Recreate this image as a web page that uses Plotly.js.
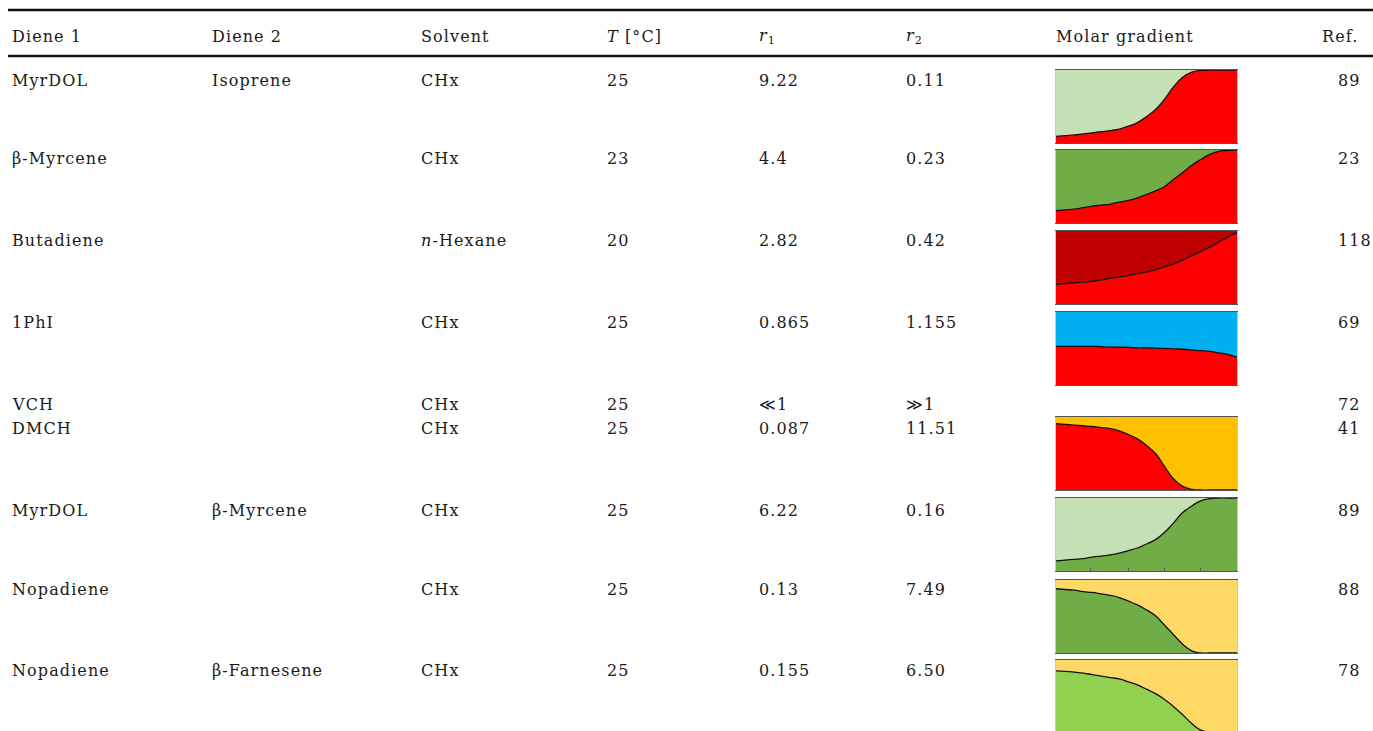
<!DOCTYPE html>
<html>
<head>
<meta charset="utf-8">
<script src="https://cdn.plot.ly/plotly-3.0.1.min.js"></script>
<style>
html,body{margin:0;padding:0;background:#fff;}
#chart{width:1373px;height:731px;}
.annotation-text{letter-spacing:1.1px;}
</style>
</head>
<body>
<div id="chart"></div>
<script>
// ---------- table data ----------
const headers = ['Diene 1', 'Diene 2', 'Solvent', '<i>T</i> [°C]', '<i>r</i><sub>1</sub>', '<i>r</i><sub>2</sub>', 'Molar gradient', 'Ref.'];
const diene1  = ['MyrDOL', 'β-Myrcene', 'Butadiene', '1PhI', 'VCH', 'DMCH', 'MyrDOL', 'Nopadiene', 'Nopadiene'];
const diene2  = ['Isoprene', '', '', '', '', '', 'β-Myrcene', '', 'β-Farnesene'];
const solvent = ['CHx', 'CHx', '<i>n</i>-Hexane', 'CHx', 'CHx', 'CHx', 'CHx', 'CHx', 'CHx'];
const tempC   = ['25', '23', '20', '25', '25', '25', '25', '25', '25'];
const r1      = ['9.22', '4.4', '2.82', '0.865', '≪1', '0.087', '6.22', '0.13', '0.155'];
const r2      = ['0.11', '0.23', '0.42', '1.155', '≫1', '11.51', '0.16', '7.49', '6.50'];
const refs    = ['89', '23', '118', '69', '72', '41', '89', '88', '78'];

// ---------- molar gradient data (fraction of lower monomer vs. conversion) ----------
const conv = [0, 0.05, 0.1, 0.15, 0.2, 0.25, 0.3, 0.35, 0.4, 0.45, 0.5, 0.55, 0.6, 0.65, 0.7, 0.75, 0.8, 0.85, 0.9, 0.95, 1];
const gradMyrDOLIsoprene = [0.09, 0.10, 0.11, 0.125, 0.14, 0.155, 0.17, 0.19, 0.23, 0.28, 0.36, 0.46, 0.60, 0.77, 0.90, 0.97, 0.995, 1, 1, 1, 1];
const gradMyrceneRow     = [0.17, 0.18, 0.19, 0.21, 0.23, 0.245, 0.26, 0.285, 0.31, 0.345, 0.39, 0.44, 0.50, 0.60, 0.69, 0.79, 0.87, 0.94, 0.98, 0.995, 1];
const gradButadiene      = [0.27, 0.28, 0.29, 0.30, 0.31, 0.33, 0.35, 0.37, 0.39, 0.415, 0.44, 0.47, 0.51, 0.55, 0.60, 0.66, 0.72, 0.78, 0.85, 0.92, 0.98];
const grad1PhI           = [0.53, 0.53, 0.53, 0.53, 0.53, 0.525, 0.52, 0.52, 0.515, 0.51, 0.51, 0.505, 0.50, 0.495, 0.49, 0.48, 0.47, 0.46, 0.44, 0.42, 0.38];
const gradDMCH           = [0.91, 0.90, 0.89, 0.88, 0.87, 0.855, 0.84, 0.81, 0.76, 0.70, 0.61, 0.50, 0.32, 0.15, 0.05, 0.01, 0, 0, 0, 0, 0];
const gradMyrDOLMyrcene  = [0.14, 0.15, 0.16, 0.17, 0.19, 0.205, 0.22, 0.245, 0.28, 0.315, 0.37, 0.43, 0.53, 0.66, 0.80, 0.89, 0.96, 0.99, 1, 1, 1];
const gradNopadieneRow   = [0.88, 0.87, 0.86, 0.84, 0.83, 0.81, 0.79, 0.76, 0.71, 0.66, 0.59, 0.51, 0.38, 0.25, 0.12, 0.03, 0, 0, 0, 0, 0];
const gradNopFarnesene   = [0.85, 0.845, 0.835, 0.82, 0.80, 0.78, 0.76, 0.74, 0.70, 0.66, 0.60, 0.54, 0.46, 0.36, 0.25, 0.13, 0.04, 0.01, 0, 0, 0];
const gradients = [gradMyrDOLIsoprene, gradMyrceneRow, gradButadiene, grad1PhI, gradDMCH, gradMyrDOLMyrcene, gradNopadieneRow, gradNopFarnesene];

// ---------- styles / layout ----------
const W = 1373, H = 731;
const px = x => x / W;
const py = y => 1 - y / H;
const topColors = ['#C5E0B4', '#70AD47', '#C00000', '#00B0F0', '#FFC000', '#C5E0B4', '#FFD966', '#FFD966'];
const botColors = ['#FF0000', '#FF0000', '#FF0000', '#FF0000', '#FF0000', '#70AD47', '#70AD47', '#92D050'];
const boxTops = [70, 150, 231, 312, 417, 498, 580, 660];
const boxH = 73;
const boxX0 = 1056, boxX1 = 1237;
const colX = [11, 211, 420, 606, 758, 905, 1055];
const refHeadX = 1321, refX = 1337;
const headY = 37;
const rowY = [80, 159, 240, 322, 404, 428, 510, 589, 670];
const FONT = {family: 'DejaVu Serif', size: 16, color: '#1a1a1a'};

const annotations = [];
function addText(txt, x, y) {
  if (!txt) return;
  annotations.push({text: txt, xref: 'paper', yref: 'paper', x: px(x), y: py(y),
    xanchor: 'left', yanchor: 'middle', align: 'left', showarrow: false, font: FONT, borderpad: 0});
}
headers.slice(0, 7).forEach((h, i) => addText(h, colX[i], headY));
addText(headers[7], refHeadX, headY);
const cols = [diene1, diene2, solvent, tempC, r1, r2];
rowY.forEach((y, r) => {
  cols.forEach((c, i) => addText(c[r], colX[i], y));
  addText(refs[r], refX, y);
});

const shapes = [
  {type: 'line', xref: 'paper', yref: 'paper', x0: px(8), x1: 1, y0: py(10), y1: py(10), line: {color: '#111', width: 2.5}},
  {type: 'line', xref: 'paper', yref: 'paper', x0: px(8), x1: 1, y0: py(56), y1: py(56), line: {color: '#111', width: 2.5}}
];

const traces = [];
const layout = {
  width: W, height: H, margin: {l: 0, r: 0, t: 0, b: 0},
  paper_bgcolor: '#fff', plot_bgcolor: '#fff', showlegend: false,
  annotations: annotations, shapes: shapes
};

gradients.forEach((g, k) => {
  const n = k + 1;
  const xa = 'x' + (n === 1 ? '' : n), ya = 'y' + (n === 1 ? '' : n);
  const xk = 'xaxis' + (n === 1 ? '' : n), yk = 'yaxis' + (n === 1 ? '' : n);
  traces.push({type: 'scatter', mode: 'lines', x: conv, y: g, xaxis: xa, yaxis: ya,
    fill: 'tozeroy', fillcolor: botColors[k], line: {color: '#111', width: 1.3, shape: 'spline', smoothing: 1.3},
    hoverinfo: 'skip'});
  traces.push({type: 'scatter', mode: 'lines', x: conv, y: conv.map(() => 1), xaxis: xa, yaxis: ya,
    fill: 'tonexty', fillcolor: topColors[k], line: {width: 0}, hoverinfo: 'skip'});
  let top = boxTops[k], bot = top + boxH;
  let yr = [0, 1];
  if (bot > H) { yr = [(bot - H) / boxH, 1]; bot = H; }
  const isLast = k === gradients.length - 1;
  layout[xk] = {domain: [px(boxX0), px(boxX1)], range: [0, 1], anchor: ya,
    showgrid: false, zeroline: false, showticklabels: false,
    showline: true, linecolor: '#555', linewidth: 1, mirror: !isLast, side: isLast ? 'top' : 'bottom',
    ticks: k === 5 ? 'inside' : '', tickvals: k === 5 ? [0.19, 0.4, 0.6, 0.8] : [], ticklen: 3, tickcolor: '#555',
    fixedrange: true};
  layout[yk] = {domain: [py(bot), py(top)], range: yr, anchor: xa,
    showgrid: false, zeroline: false, showticklabels: false,
    showline: true, linecolor: '#c8c8c8', linewidth: 1, mirror: true, ticks: '', fixedrange: true};
});

Plotly.newPlot('chart', traces, layout, {displayModeBar: false, staticPlot: true});
</script>
</body>
</html>
